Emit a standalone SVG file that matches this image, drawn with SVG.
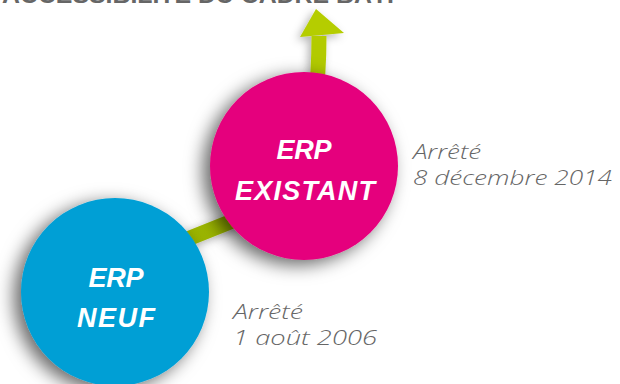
<svg xmlns="http://www.w3.org/2000/svg" width="620" height="384" viewBox="0 0 620 384">
<defs>
<filter id="sh" x="-30%" y="-30%" width="160%" height="160%">
<feDropShadow dx="-7" dy="5" stdDeviation="9" flood-color="#000" flood-opacity="0.6"/>
</filter>
<filter id="sh2" x="-50%" y="-50%" width="200%" height="200%">
<feDropShadow dx="-3" dy="3" stdDeviation="4" flood-color="#000" flood-opacity="0.3"/>
</filter>
<linearGradient id="g" gradientUnits="userSpaceOnUse" x1="190" y1="240" x2="319" y2="20">
<stop offset="0" stop-color="#9ab400"/>
<stop offset="1" stop-color="#b5cd00"/>
</linearGradient>
</defs>
<style>
.title{font-family:"Liberation Sans",sans-serif;font-weight:bold;font-size:24px;fill:#666}
.node{font-family:"Liberation Sans",sans-serif;font-weight:bold;font-style:italic;font-size:27px;fill:#fff}
.note{font-family:"Open Sans","Liberation Sans",sans-serif;font-weight:300;font-style:italic;font-size:21px;fill:#666}
</style>
<rect width="620" height="384" fill="#fff"/>
<text class="title" x="2" y="3" textLength="392" lengthAdjust="spacingAndGlyphs">ACCESSIBILITÉ DU CADRE BÂTI</text>
<g id="connectors" filter="url(#sh2)">
<path d="M150 254 L250 214 Q319 186 319 36" fill="none" stroke="url(#g)" stroke-width="15"/>
<polygon points="316,9 300,37 344,33" fill="#b5cd00"/>
</g>
<g id="erp-neuf">
<circle cx="115" cy="292" r="94" fill="#009fd5" filter="url(#sh)"/>
<text class="node" x="116" y="287" text-anchor="middle" textLength="55">ERP</text>
<text class="node" x="116" y="327" text-anchor="middle" textLength="78">NEUF</text>
</g>
<g id="erp-existant">
<circle cx="304" cy="166" r="94" fill="#e5007d" filter="url(#sh)"/>
<text class="node" x="304" y="159" text-anchor="middle" textLength="55">ERP</text>
<text class="node" x="305" y="200" text-anchor="middle" textLength="140">EXISTANT</text>
</g>
<g id="note-existant">
<text class="note" x="413" y="159" textLength="68" lengthAdjust="spacingAndGlyphs">Arrêté</text>
<text class="note" x="413" y="185" textLength="199" lengthAdjust="spacingAndGlyphs">8 décembre 2014</text>
</g>
<g id="note-neuf">
<text class="note" x="233" y="319" textLength="70" lengthAdjust="spacingAndGlyphs">Arrêté</text>
<text class="note" x="233" y="345" textLength="144" lengthAdjust="spacingAndGlyphs">1 août 2006</text>
</g>
</svg>
